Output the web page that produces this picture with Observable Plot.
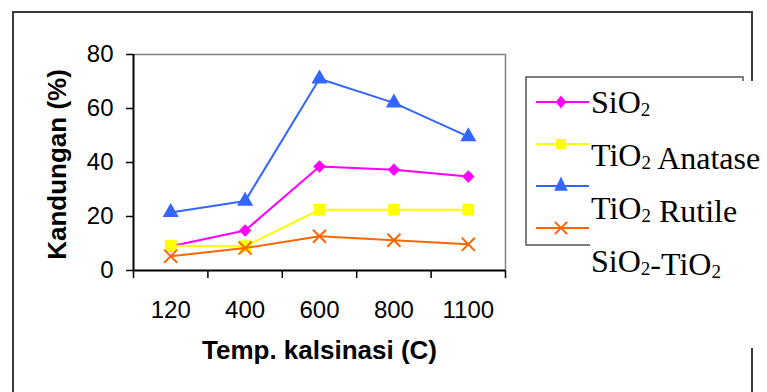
<!DOCTYPE html>
<html>
<head>
<meta charset="utf-8">
<script src="https://cdn.jsdelivr.net/npm/d3@7"></script>
<script src="https://cdn.jsdelivr.net/npm/@observablehq/plot@0.6"></script>
<style>
  html, body { margin: 0; padding: 0; background: white; }
  #chart { width: 767px; height: 392px; overflow: hidden; }
</style>
</head>
<body>
<div id="chart"></div>
<script>
// ---- data ----
const categories = ["120", "400", "600", "800", "1100"];
const yTicks = [0, 20, 40, 60, 80];
const seriesNames = ["SiO2", "TiO2 Anatase", "TiO2 Rutile", "SiO2-TiO2"];
const sio2Values = [9.0, 14.8, 38.5, 37.3, 34.8];
const anataseValues = [9.2, 9.0, 22.5, 22.5, 22.5];
const rutileValues = [21.5, 25.7, 71.0, 62.1, 49.6];
const sio2tio2Values = [5.3, 8.3, 12.7, 11.2, 9.7];
const seriesColors = ["#FF00FF", "#FFFF00", "#3366FF", "#FF6600"];
const seriesSymbols = ["diamond2", "square", "triangle", "times"];
const xTitle = "Temp. kalsinasi (C)";
const yTitle = "Kandungan (%)";

const seriesValues = [sio2Values, anataseValues, rutileValues, sio2tio2Values];
const series = seriesNames.map((name, k) => ({
  name, values: seriesValues[k], color: seriesColors[k], symbol: seriesSymbols[k]
}));

const W = 767, H = 392;
const markerR = {diamond2: 5.6, square: 6.6, triangle: 6.0, times: 6.0};
const seriesMarks = [];
for (const s of series) {
  seriesMarks.push(Plot.line(s.values, {x: (d, i) => i, y: d => d, stroke: s.color, strokeWidth: 2}));
  const filled = s.symbol !== "times";
  seriesMarks.push(Plot.dot(s.values, {
    x: (d, i) => i, y: d => d, symbol: s.symbol,
    r: markerR[s.symbol],
    fill: filled ? s.color : "none",
    stroke: filled ? "none" : s.color,
    strokeWidth: filled ? 0 : 2
  }));
}

const chart = Plot.plot({
  width: W,
  height: H,
  marginLeft: 133,
  marginRight: W - 505,
  marginTop: 54,
  marginBottom: H - 270,
  style: {fontFamily: "'Liberation Sans', Arial, sans-serif", background: "white", color: "black", overflow: "visible"},
  x: {type: "linear", domain: [-0.5, categories.length - 0.5]},
  y: {domain: [0, 80]},
  marks: [
    Plot.ruleY([80], {stroke: "#808080", strokeWidth: 1.5}),
    Plot.ruleX([categories.length - 0.5], {stroke: "#808080", strokeWidth: 1.5}),
    Plot.axisY({ticks: yTicks, tickSize: 7, tickPadding: 13, fontSize: 24, label: null, strokeWidth: 1.5}),
    Plot.axisX({ticks: d3.range(-0.5, categories.length, 1), tickSize: 8, tickFormat: () => "", label: null, strokeWidth: 1.5}),
    Plot.axisX({ticks: d3.range(categories.length), tickSize: 0, tickPadding: 30, tickFormat: i => categories[i], fontSize: 24, label: null}),
    Plot.ruleX([-0.5], {stroke: "black", strokeWidth: 2}),
    Plot.ruleY([0], {stroke: "black", strokeWidth: 2}),
    ...seriesMarks,
    Plot.text([xTitle], {text: d => d, frameAnchor: "bottom", dy: 88, fontSize: 26, fontWeight: "bold", fill: "black"}),
    Plot.text([yTitle], {text: d => d, frameAnchor: "left", textAnchor: "middle", rotate: -90, dx: -76, dy: 2, fontSize: 26, fontWeight: "bold", fill: "black"})
  ]
});

document.getElementById("chart").appendChild(chart);

// ---- frame and legend (decorations) ----
const svg = d3.select(chart);
// outer frame
const frame = svg.append("g").attr("stroke", "#3a3a3a").attr("stroke-width", 2).attr("fill", "none");
frame.append("path").attr("d", `M13,${H + 5}V12H752V${H + 5}`);
// legend box
const lg = svg.append("g").attr("text-anchor", "start");
lg.append("rect").attr("x", 526).attr("y", 77).attr("width", 217).attr("height", 168)
  .attr("fill", "white").attr("stroke", "#555").attr("stroke-width", 1.5);
// white text area covering part of the box and frame
lg.append("rect").attr("x", 590).attr("y", 81).attr("width", W - 590).attr("height", 267).attr("fill", "white");

const symbolTypes = {diamond2: d3.symbolDiamond2, square: d3.symbolSquare, triangle: d3.symbolTriangle, times: d3.symbolTimes};
const legendSize = {diamond2: 70, square: 100, triangle: 80, times: 100};
const legendScaleY = {diamond2: 1.25, square: 1, triangle: 1.2, times: 1};
series.forEach((s, i) => {
  const yRow = 102 + i * 42;
  lg.append("line").attr("x1", 536).attr("x2", 589).attr("y1", yRow).attr("y2", yRow)
    .attr("stroke", s.color).attr("stroke-width", 2);
  const filled = s.symbol !== "times";
  lg.append("path")
    .attr("d", d3.symbol(symbolTypes[s.symbol], legendSize[s.symbol])())
    .attr("transform", `translate(561,${yRow}) scale(1,${legendScaleY[s.symbol]})`)
    .attr("fill", filled ? s.color : "none")
    .attr("stroke", filled ? "none" : s.color)
    .attr("stroke-width", 2);
  const t = lg.append("text").attr("x", 591).attr("y", 113 + i * 53)
    .attr("text-anchor", "start")
    .attr("font-family", "'Liberation Serif', 'Times New Roman', serif")
    .attr("font-size", 32).attr("fill", "black");
  const parts = s.name.split(/(\d)/).filter(p => p !== "");
  for (const p of parts) {
    if (/^\d$/.test(p)) {
      t.append("tspan").attr("font-size", 19).attr("dy", 3).text(p);
      t.append("tspan").attr("dy", -3).text("");
    } else {
      t.append("tspan").text(p);
    }
  }
});
</script>
</body>
</html>
